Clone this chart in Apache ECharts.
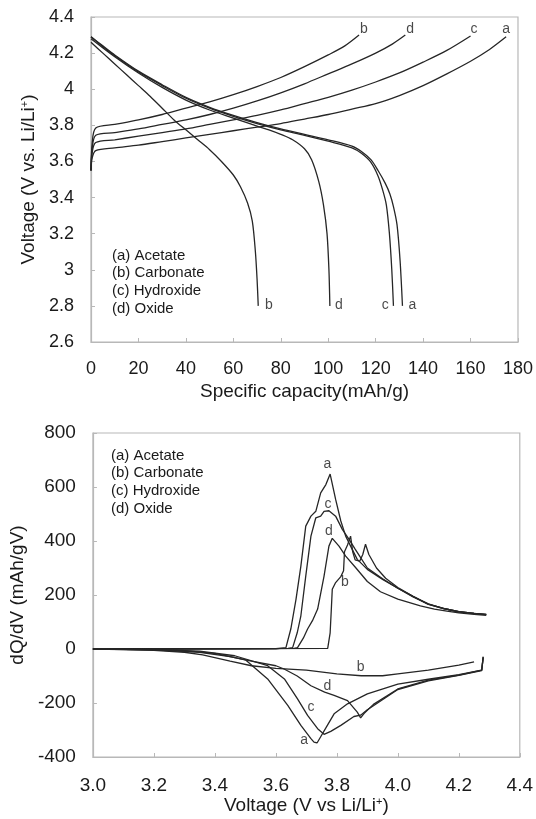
<!DOCTYPE html>
<html>
<head>
<meta charset="utf-8">
<script src="https://cdn.jsdelivr.net/npm/echarts@6/dist/echarts.min.js"></script>
<style>
html,body{margin:0;padding:0;background:#fff;}
#chart{width:536px;height:819px;}
</style>
</head>
<body>
<div id="chart"></div>
<script>
// ---------- Top panel: voltage vs specific capacity ----------
const capTicks = [0, 20, 40, 60, 80, 100, 120, 140, 160, 180];
const voltTicks = [2.6, 2.8, 3, 3.2, 3.4, 3.6, 3.8, 4, 4.2, 4.4];

const chargeA = [[0,3.55],[0.5,3.62],[2,3.66],[10,3.675],[20,3.69],[30,3.71],[40,3.73],[50,3.75],[60,3.77],[70,3.79],[80,3.81],[90,3.835],[100,3.86],[110,3.89],[120,3.92],[130,3.965],[140,4.02],[150,4.085],[160,4.155],[168,4.22],[175,4.29]];
const chargeB = [[0,3.55],[0.5,3.7],[2,3.785],[10,3.805],[20,3.83],[30,3.86],[40,3.895],[50,3.93],[60,3.97],[70,4.015],[80,4.065],[90,4.125],[100,4.19],[107,4.24],[113,4.3]];
const chargeC = [[0,3.55],[0.5,3.65],[2,3.705],[10,3.72],[20,3.74],[30,3.76],[40,3.78],[50,3.805],[60,3.83],[70,3.855],[80,3.885],[90,3.92],[100,3.955],[110,3.995],[120,4.04],[130,4.09],[140,4.15],[150,4.215],[160,4.295]];
const chargeD = [[0,3.55],[0.5,3.67],[2,3.745],[10,3.76],[20,3.78],[30,3.805],[40,3.83],[50,3.86],[60,3.895],[70,3.935],[80,3.98],[90,4.03],[100,4.085],[110,4.14],[120,4.2],[127,4.25],[132.5,4.3]];

const dischargeA = [[0,4.29],[5,4.24],[10,4.19],[20,4.1],[30,4.025],[40,3.955],[50,3.9],[60,3.855],[70,3.815],[80,3.78],[90,3.75],[100,3.72],[110,3.685],[114,3.655],[118,3.61],[121,3.55],[124,3.48],[126,3.42],[127.5,3.35],[129,3.25],[130.3,3.05],[131.3,2.8]];
const dischargeB = [[0,4.26],[5,4.2],[10,4.14],[15,4.08],[20,4.02],[25,3.96],[30,3.895],[35,3.83],[40,3.775],[45,3.72],[50,3.665],[55,3.6],[60,3.525],[63,3.46],[66,3.37],[68,3.27],[69.3,3.1],[70,2.95],[70.5,2.8]];
const dischargeC = [[0,4.29],[5,4.235],[10,4.185],[20,4.095],[30,4.02],[40,3.95],[50,3.895],[60,3.85],[70,3.81],[80,3.775],[90,3.745],[100,3.712],[110,3.675],[114,3.645],[118,3.595],[121,3.52],[123,3.44],[124.5,3.36],[125.8,3.2],[126.8,3.0],[127.5,2.8]];
const dischargeD = [[0,4.28],[10,4.18],[20,4.09],[30,4.01],[40,3.94],[50,3.885],[60,3.84],[70,3.795],[75,3.775],[80,3.75],[85,3.72],[90,3.67],[93,3.61],[96,3.49],[98,3.36],[99.5,3.2],[100.3,3.0],[100.7,2.8]];

const topCurveLabels = [
  {name:'b', value:[115,4.335]}, {name:'d', value:[134.5,4.335]},
  {name:'c', value:[161.5,4.335]}, {name:'a', value:[175,4.33]},
  {name:'b', value:[75,2.805]}, {name:'d', value:[104.5,2.805]},
  {name:'c', value:[124,2.805]}, {name:'a', value:[135.5,2.805]}
];

// ---------- Bottom panel: dQ/dV vs voltage ----------
const vTicks = [3.0, 3.2, 3.4, 3.6, 3.8, 4.0, 4.2, 4.4];
const dqTicks = [-400, -200, 0, 200, 400, 600, 800];

const posA = [[3.0,0],[3.6,1],[3.633,5],[3.649,74],[3.666,184],[3.682,307],[3.698,455],[3.715,492],[3.731,510],[3.747,578],[3.764,609],[3.778,648],[3.796,554],[3.813,474],[3.829,418],[3.85,370],[3.867,332],[3.9,295],[3.95,258],[4.0,225],[4.05,195],[4.1,167],[4.15,150],[4.2,138],[4.25,132],[4.29,128]];
const posB = [[3.0,0],[3.77,2],[3.778,60],[3.782,150],[3.785,221],[3.796,246],[3.813,268],[3.822,290],[3.825,360],[3.835,385],[3.845,418],[3.852,360],[3.86,330],[3.875,325],[3.885,350],[3.894,388],[3.905,350],[3.93,300],[3.96,262],[4.0,228],[4.05,195],[4.1,165],[4.15,150],[4.2,138],[4.25,132],[4.29,128]];
const posC = [[3.0,0],[3.64,2],[3.655,5],[3.67,60],[3.682,123],[3.698,270],[3.715,418],[3.731,486],[3.747,492],[3.758,510],[3.774,512],[3.796,492],[3.818,443],[3.84,406],[3.86,370],[3.88,335],[3.9,300],[3.95,260],[4.0,225],[4.05,193],[4.1,166],[4.15,150],[4.2,138],[4.25,132],[4.29,127]];
const posD = [[3.0,0],[3.66,2],[3.671,5],[3.69,40],[3.704,74],[3.72,105],[3.737,148],[3.758,270],[3.774,381],[3.785,410],[3.807,381],[3.829,344],[3.862,301],[3.9,250],[3.943,212],[4.0,185],[4.074,160],[4.12,148],[4.161,140],[4.2,134],[4.25,128],[4.29,125]];

const negA = [[4.28,-30],[4.275,-78],[4.2,-95],[4.1,-112],[4.0,-130],[3.9,-166],[3.835,-203],[3.791,-240],[3.765,-290],[3.747,-325],[3.735,-348],[3.725,-345],[3.715,-332],[3.682,-283],[3.639,-209],[3.573,-111],[3.5,-40],[3.45,-28],[3.4,-16],[3.3,-6],[3.2,-2],[3.0,0]];
const negB = [[4.25,-48],[4.2,-60],[4.1,-78],[4.0,-92],[3.95,-99],[3.88,-99],[3.8,-92],[3.7,-78],[3.6,-72],[3.52,-62],[3.45,-45],[3.36,-22],[3.3,-12],[3.2,-5],[3.1,-2],[3.0,0]];
const negC = [[4.28,-32],[4.275,-80],[4.2,-98],[4.1,-118],[4.0,-150],[3.92,-210],[3.9,-225],[3.878,-245],[3.856,-250],[3.813,-283],[3.78,-305],[3.758,-316],[3.737,-295],[3.704,-246],[3.671,-185],[3.628,-111],[3.573,-62],[3.465,-25],[3.35,-8],[3.2,-2],[3.0,0]];
const negD = [[4.28,-28],[4.275,-78],[4.2,-97],[4.1,-115],[4.0,-148],[3.92,-205],[3.889,-239],[3.878,-255],[3.867,-234],[3.835,-191],[3.791,-172],[3.76,-160],[3.715,-136],[3.67,-100],[3.627,-74],[3.6,-62],[3.52,-45],[3.45,-28],[3.35,-12],[3.2,-3],[3.0,0]];

const bottomCurveLabels = [
  {name:'a', value:[3.769,683]}, {name:'c', value:[3.771,535]},
  {name:'d', value:[3.774,437]}, {name:'b', value:[3.826,246]},
  {name:'b', value:[3.878,-68]}, {name:'d', value:[3.769,-136]},
  {name:'c', value:[3.715,-215]}, {name:'a', value:[3.693,-339]}
];

const legendItems = ['(a) Acetate', '(b) Carbonate', '(c) Hydroxide', '(d) Oxide'];

// ---------- Build ----------
const FONT = 'Liberation Sans, Arial, sans-serif';
const LINE = {color:'#262626', width:1.3};
const frame = '#b8b8b8';

function lineSeries(data, xi, yi, smooth) {
  return {type:'line', xAxisIndex:xi, yAxisIndex:yi, data:data, showSymbol:false, symbol:'none',
    smooth:smooth, lineStyle:LINE, silent:true, animation:false, z:3};
}
function labelSeries(data, xi, yi) {
  return {type:'scatter', xAxisIndex:xi, yAxisIndex:yi, data:data, symbolSize:0, silent:true, animation:false,
    label:{show:true, position:'inside', formatter:'{b}', color:'#1a1a1a', fontFamily:FONT, fontSize:14}, z:5};
}
function axisCommon() {
  return {
    axisLine:{show:true, onZero:false, lineStyle:{color:frame, width:1.2}},
    axisTick:{show:true, inside:true, length:4, lineStyle:{color:frame}},
    splitLine:{show:false}
  };
}

const legendGraphics = [];
legendItems.forEach((t, i) => {
  legendGraphics.push({type:'text', left:112, top:248 + i*17.8, silent:true,
    style:{text:t, font:'15px ' + FONT, fill:'#1a1a1a'}});
  legendGraphics.push({type:'text', left:111, top:448 + i*17.8, silent:true,
    style:{text:t, font:'15px ' + FONT, fill:'#1a1a1a'}});
});

const option = {
  backgroundColor:'#fff',
  animation:false,
  grid:[
    {left:91, top:17, width:429, height:325, show:true, borderColor:frame, borderWidth:1.2, containLabel:false},
    {left:91, top:433, width:429, height:324, show:true, borderColor:frame, borderWidth:1.2, containLabel:false}
  ],
  xAxis:[
    Object.assign(axisCommon(), {gridIndex:0, type:'value', min:0, max:180, interval:20,
      name:'Specific capacity(mAh/g)', nameLocation:'middle', nameGap:40,
      nameTextStyle:{fontFamily:FONT, fontSize:19, color:'#1a1a1a'},
      axisLabel:{margin:18, fontFamily:FONT, fontSize:18, color:'#1a1a1a', formatter:(v)=>String(v)}}),
    Object.assign(axisCommon(), {gridIndex:1, type:'value', min:3.0, max:4.4, interval:0.2,
      name:'Voltage (V vs Li/Li{sup|+})', nameLocation:'middle', nameGap:39,
      nameTextStyle:{fontFamily:FONT, fontSize:19, color:'#1a1a1a', rich:{sup:{fontSize:11, verticalAlign:'top', padding:[0,0,8,0], fontFamily:FONT, color:'#1a1a1a'}}},
      axisLabel:{margin:19, fontFamily:FONT, fontSize:19, color:'#1a1a1a', formatter:(v)=>(+v).toFixed(1)}})
  ],
  yAxis:[
    Object.assign(axisCommon(), {gridIndex:0, type:'value', min:2.6, max:4.4, interval:0.2,
      name:'Voltage (V vs. Li/Li{sup|+})', nameLocation:'middle', nameGap:50,
      nameTextStyle:{fontFamily:FONT, fontSize:19, color:'#1a1a1a', rich:{sup:{fontSize:11, verticalAlign:'top', padding:[0,0,8,0], fontFamily:FONT, color:'#1a1a1a'}}},
      axisLabel:{margin:17, fontFamily:FONT, fontSize:18, color:'#1a1a1a', formatter:(v)=>String(+(+v).toFixed(1))}}),
    Object.assign(axisCommon(), {gridIndex:1, type:'value', min:-400, max:800, interval:200,
      name:'dQ/dV (mAh/gV)', nameLocation:'middle', nameGap:58,
      nameTextStyle:{fontFamily:FONT, fontSize:19, color:'#1a1a1a'},
      axisLabel:{margin:17, fontFamily:FONT, fontSize:19, color:'#1a1a1a', formatter:(v)=>String(v)}})
  ],
  series:[
    lineSeries(chargeA,0,0,0.3), lineSeries(chargeB,0,0,0.3), lineSeries(chargeC,0,0,0.3), lineSeries(chargeD,0,0,0.3),
    lineSeries(dischargeA,0,0,0.3), lineSeries(dischargeB,0,0,0.3), lineSeries(dischargeC,0,0,0.3), lineSeries(dischargeD,0,0,0.3),
    labelSeries(topCurveLabels,0,0),
    lineSeries(posA,1,1,false), lineSeries(posB,1,1,false), lineSeries(posC,1,1,false), lineSeries(posD,1,1,false),
    lineSeries(negA,1,1,false), lineSeries(negB,1,1,false), lineSeries(negC,1,1,false), lineSeries(negD,1,1,false),
    labelSeries(bottomCurveLabels,1,1)
  ],
  graphic: legendGraphics
};

const chart = echarts.init(document.getElementById('chart'), null, {renderer:'canvas'});
chart.setOption(option);
</script>
</body>
</html>
